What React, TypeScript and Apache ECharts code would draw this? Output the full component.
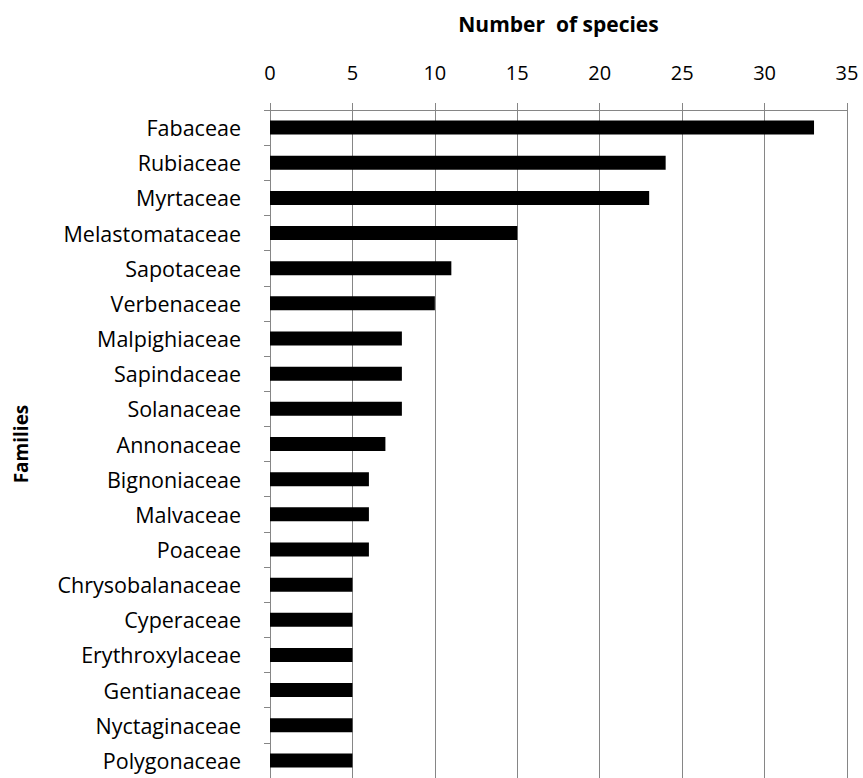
import React, { useEffect, useRef } from "react";
import * as echarts from "echarts";

const families = [
  "Fabaceae",
  "Rubiaceae",
  "Myrtaceae",
  "Melastomataceae",
  "Sapotaceae",
  "Verbenaceae",
  "Malpighiaceae",
  "Sapindaceae",
  "Solanaceae",
  "Annonaceae",
  "Bignoniaceae",
  "Malvaceae",
  "Poaceae",
  "Chrysobalanaceae",
  "Cyperaceae",
  "Erythroxylaceae",
  "Gentianaceae",
  "Nyctaginaceae",
  "Polygonaceae",
];

const species = [33, 24, 23, 15, 11, 10, 8, 8, 8, 7, 6, 6, 6, 5, 5, 5, 5, 5, 5];

const xTicks = { min: 0, max: 35, interval: 5 };

const FONT = "'Open Sans', Lato, sans-serif";

export default function App() {
  const ref = useRef<HTMLDivElement>(null);
  useEffect(() => {
    if (!ref.current) return;
    const chart = echarts.init(ref.current, undefined, { renderer: "svg" });
    chart.setOption({
      animation: false,
      backgroundColor: "#ffffff",
      grid: { left: 270, right: 16, top: 110, height: 672.6, containLabel: false },
      xAxis: {
        type: "value",
        position: "top",
        min: xTicks.min,
        max: xTicks.max,
        interval: xTicks.interval,
        name: "Number  of species",
        nameLocation: "middle",
        nameGap: 76,
        nameTextStyle: { fontFamily: FONT, fontSize: 21, fontWeight: "bold", color: "#000" },
        axisLine: { show: true, lineStyle: { color: "#868686", width: 1 } },
        axisTick: { show: true, length: 7, inside: false, lineStyle: { color: "#868686" } },
        axisLabel: { fontFamily: FONT, fontSize: 20, color: "#000", margin: 28 },
        splitLine: { show: true, lineStyle: { color: "#868686", width: 1 } },
      },
      yAxis: {
        type: "category",
        inverse: true,
        data: families,
        name: "Families",
        nameLocation: "middle",
        nameGap: 240,
        nameRotate: 90,
        nameTextStyle: { fontFamily: FONT, fontSize: 19, fontWeight: "bold", color: "#000" },
        axisLine: { show: true, lineStyle: { color: "#868686", width: 1 } },
        axisTick: { show: true, length: 6, alignWithLabel: false, lineStyle: { color: "#868686" } },
        axisLabel: { fontFamily: FONT, fontSize: 21.5, color: "#000", margin: 29 },
        splitLine: { show: false },
      },
      series: [
        {
          type: "bar",
          data: species,
          barWidth: 14,
          itemStyle: { color: "#000000" },
        },
      ],
    });
    return () => chart.dispose();
  }, []);
  return (
    <div
      ref={ref}
      style={{ position: "fixed", left: 0, top: 0, width: 863, height: 778 }}
    />
  );
}
